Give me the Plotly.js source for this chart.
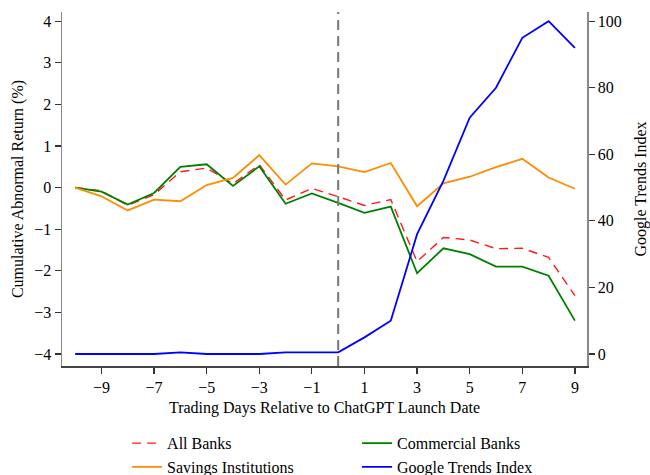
<!DOCTYPE html>
<html>
<head>
<meta charset="utf-8">
<script src="https://cdn.plot.ly/plotly-3.0.1.min.js"></script>
<style>html,body{margin:0;padding:0;background:#fff}</style>
</head>
<body>
<div id="chart" style="width:650px;height:475px"></div>
<script>
const days = [-10,-9,-8,-7,-6,-5,-4,-3,-2,-1,0,1,2,3,4,5,6,7,8,9];
const allBanks = [0,-0.08,-0.43,-0.17,0.38,0.47,0.09,0.55,-0.3,-0.02,-0.22,-0.43,-0.29,-1.78,-1.2,-1.26,-1.47,-1.46,-1.68,-2.6];
const commercialBanks = [0,-0.1,-0.41,-0.13,0.5,0.56,0.04,0.51,-0.39,-0.14,-0.37,-0.61,-0.46,-2.06,-1.46,-1.6,-1.9,-1.9,-2.12,-3.2];
const savingsInstitutions = [0,-0.21,-0.55,-0.29,-0.33,0.06,0.23,0.78,0.07,0.58,0.51,0.37,0.59,-0.45,0.1,0.26,0.49,0.69,0.24,-0.03];
const googleTrends = [0,0,0,0,0.5,0,0,0,0.5,0.5,0.5,5,10,36,52,71,80,95,100,92];
const xTicks = [-9,-7,-5,-3,-1,1,3,5,7,9];
const leftTicks = [-4,-3,-2,-1,0,1,2,3,4];
const rightTicks = [0,20,40,60,80,100];
const launchDay = 0;

const font = {family: '"Liberation Serif", "Times New Roman", serif', size: 16, color: '#000'};

const traces = [
  {x: days, y: allBanks, name: 'All Banks', mode: 'lines', legend: 'legend', line: {color: '#ff1a1a', width: 1.4, dash: '9px,6px'}},
  {x: days, y: commercialBanks, name: 'Commercial Banks', mode: 'lines', legend: 'legend2', line: {color: '#008000', width: 1.8}},
  {x: days, y: savingsInstitutions, name: 'Savings Institutions', mode: 'lines', legend: 'legend', line: {color: '#ff8c00', width: 1.8}},
  {x: days, y: googleTrends, name: 'Google Trends Index', mode: 'lines', yaxis: 'y2', legend: 'legend2', line: {color: '#0000ff', width: 1.8}}
];

const legendBase = {orientation: 'v', y: -0.17, yanchor: 'top', xanchor: 'left', tracegroupgap: 0,
                    bgcolor: 'rgba(0,0,0,0)', font: {family: font.family, size: 16, color: '#000'}};

const layout = {
  width: 650, height: 475,
  margin: {l: 62, r: 63, t: 12, b: 109, autoexpand: false},
  paper_bgcolor: '#fff', plot_bgcolor: '#fff',
  font: font,
  showlegend: true,
  legend: Object.assign({}, legendBase, {x: 0.124}),
  legend2: Object.assign({}, legendBase, {x: 0.562}),
  xaxis: {range: [-10.5, 9.46], tickvals: xTicks, ticks: 'outside', ticklen: 6, tickwidth: 1.2,
          tickcolor: '#333', showline: true, linecolor: '#444', linewidth: 1.5, showgrid: false, zeroline: false,
          tickfont: font,
          title: {text: 'Trading Days Relative to ChatGPT Launch Date', font: font, standoff: 7}},
  yaxis: {range: [-4.29, 4.22], tickvals: leftTicks, ticks: 'outside', ticklen: 6, tickwidth: 1.2,
          tickcolor: '#333', showline: true, linecolor: '#888', linewidth: 1.5, showgrid: false, zeroline: false,
          tickfont: font,
          title: {text: 'Cumulative Abnormal Return (%)', font: font, standoff: 6}},
  yaxis2: {range: [-3.6, 102.75], tickvals: rightTicks, overlaying: 'y', side: 'right', ticks: 'outside', ticklen: 6,
           tickwidth: 1.2, tickcolor: '#333', showline: true, linecolor: '#888', linewidth: 1.5,
           showgrid: false, zeroline: false, tickfont: font,
           title: {text: 'Google Trends Index', font: font, standoff: 16}},
  shapes: [{type: 'line', xref: 'x', yref: 'paper', x0: launchDay, x1: launchDay, y0: 0, y1: 1,
            line: {color: '#777', width: 2, dash: '10px,6px'}}]
};

Plotly.newPlot('chart', traces, layout, {displayModeBar: false, staticPlot: true});
</script>
</body>
</html>
